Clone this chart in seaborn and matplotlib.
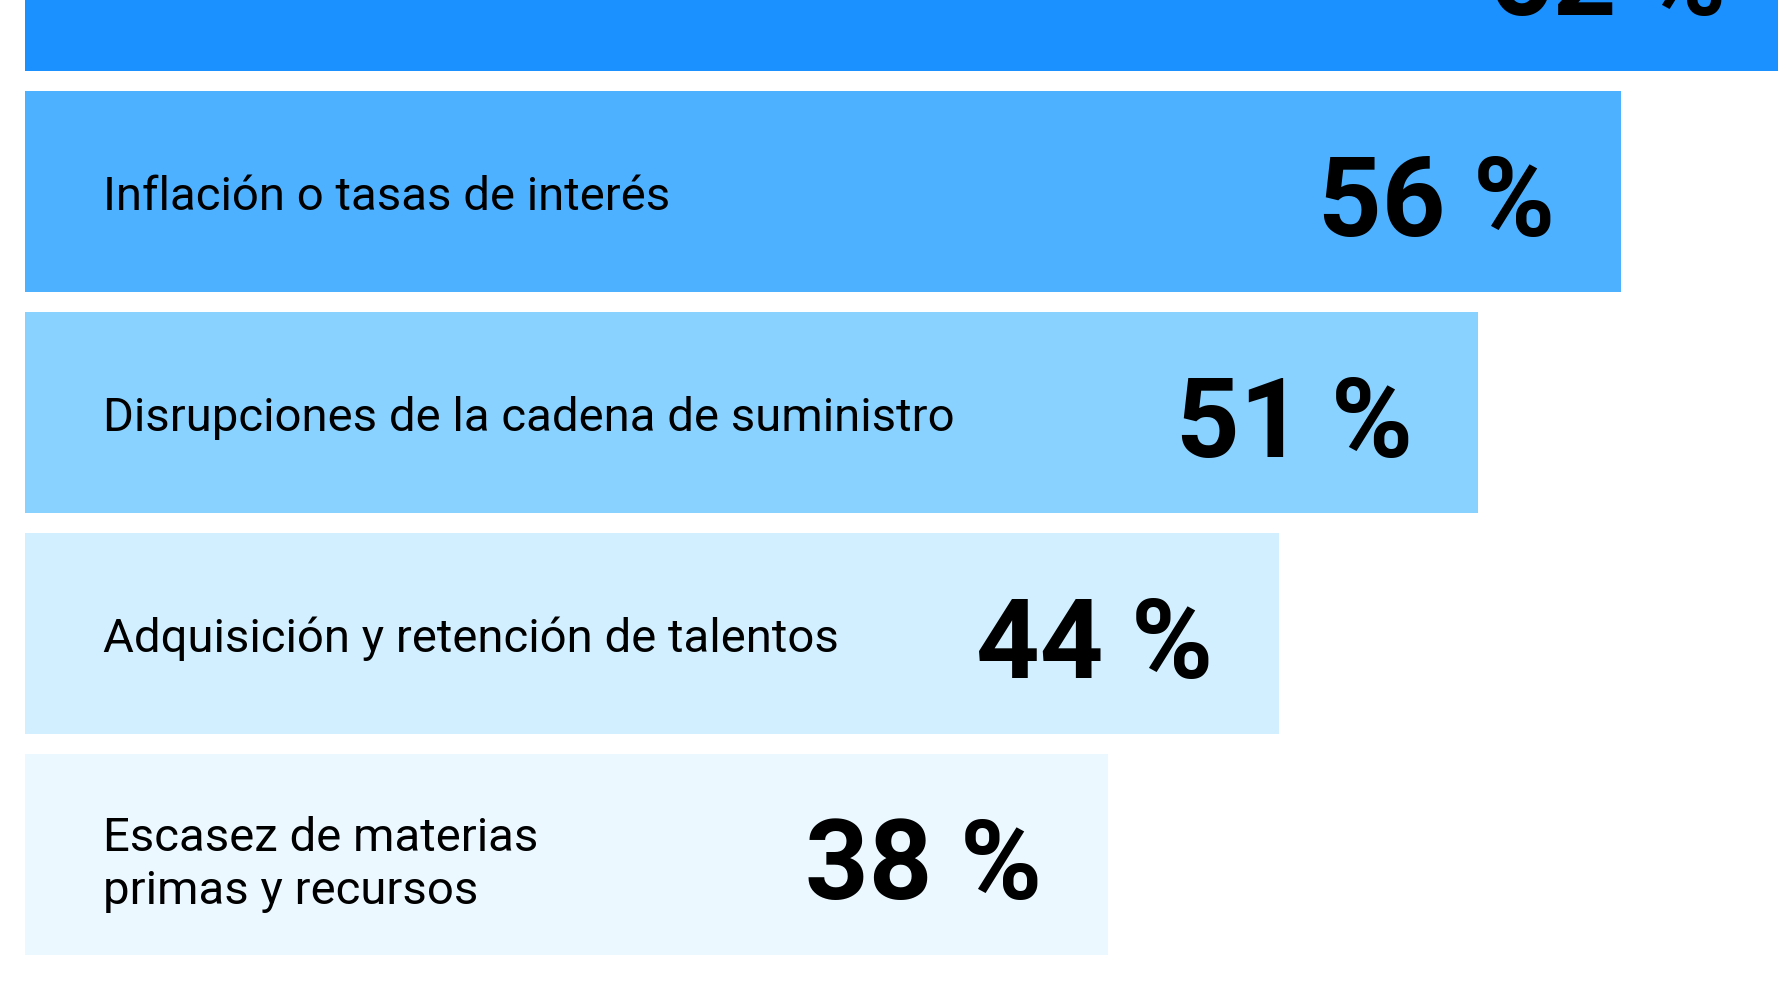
import numpy as np
import pandas as pd
import seaborn as sns
import matplotlib.pyplot as plt

# data (top bar is cut off by the frame)
categories = [
    "Inestabilidad geopolítica",
    "Inflación o tasas de interés",
    "Disrupciones de la cadena de suministro",
    "Adquisición y retención de talentos",
    "Escasez de materias\nprimas y recursos",
]
values = [62, 56, 51, 44, 38]

bar_colors = ["#1B90FF", "#4DB1FF", "#89D1FF", "#D1EFFF", "#EBF8FF"]

df = pd.DataFrame({"categoria": categories, "valor": values})

sns.set_theme(style="white")
plt.rcParams["font.family"] = ["Roboto", "DejaVu Sans"]

fig = plt.figure(figsize=(17.78, 10.06), dpi=100)
ax = fig.add_axes([0, 0, 1, 1])

sns.barplot(data=df, x="valor", y="categoria", hue="categoria",
            palette=bar_colors, legend=False, width=0.91,
            saturation=1, linewidth=0, ax=ax)

# the picture is a crop: first bar runs off the top and right edge
ax.set_xlim(-0.877, 61.51)
ax.set_ylim(4.686, 0.1335)
ax.axis("off")

for i, (cat, val) in enumerate(zip(categories, values)):
    if "\n" in cat:
        # baseline of a multi-line text is the last line
        ax.text(2.74, i + 0.224, cat, ha="left", va="baseline",
                fontsize=34, color="#000000", linespacing=1.25)
    else:
        ax.text(2.74, i + 0.086, cat, ha="left", va="baseline",
                fontsize=34, color="#000000")
    ax.text(val - 2.3, i + 0.2, f"{val} %", ha="right", va="baseline",
            fontsize=80, fontweight="bold", color="#000000")

fig.savefig("out.png", dpi=100)
